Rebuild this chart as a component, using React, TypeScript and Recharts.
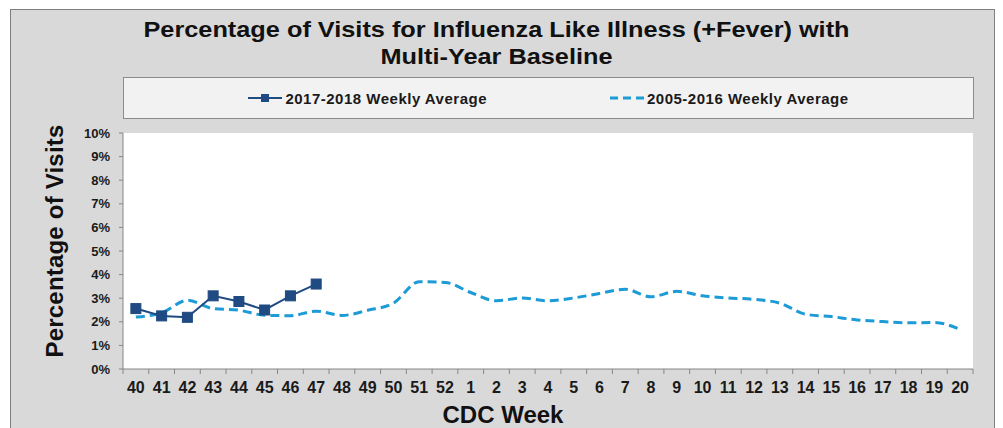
import React from 'react';
import { LineChart, Line, XAxis, YAxis, CartesianGrid } from 'recharts';

const weeks = [
  '40', '41', '42', '43', '44', '45', '46', '47', '48', '49', '50', '51', '52',
  '1', '2', '3', '4', '5', '6', '7', '8', '9', '10', '11', '12', '13', '14', '15', '16', '17', '18', '19', '20',
];

// 2017-2018 season, only the first 8 weeks reported
const season1718 = [2.56, 2.25, 2.19, 3.1, 2.86, 2.5, 3.1, 3.6];

// 2005-2016 multi-year weekly average
const baseline = [
  2.2, 2.38, 2.91, 2.56, 2.49, 2.28, 2.26, 2.45, 2.27, 2.49, 2.79, 3.7, 3.67,
  3.24, 2.89, 3.01, 2.89, 3.01, 3.2, 3.38, 3.06, 3.29, 3.1, 3.01, 2.95, 2.79, 2.32, 2.22, 2.08, 2.01, 1.96, 1.97, 1.68,
];

const yTicks = [0, 1, 2, 3, 4, 5, 6, 7, 8, 9, 10];

const seriesNames = ['2017-2018 Weekly Average', '2005-2016 Weekly Average'];

const data = weeks.map((w, i) => ({
  week: w,
  current: i < season1718.length ? season1718[i] : null,
  baseline: baseline[i],
}));

const NAVY = '#1f4a82';
const LIGHT = '#1d9bd6';
const AXIS = '#868686';
const FONT = '"Liberation Sans", Arial, sans-serif';

const W = 1003;
const H = 428;
const margin = { top: 133, right: 30, bottom: 29, left: 0 };

function WeekTick(props: any) {
  const { x, y, payload, index, visibleTicksCount } = props;
  const plotW = W - 123 - margin.right;
  const half = payload && payload.offset ? payload.offset : plotW / weeks.length / 2;
  return (
    <g>
      <line x1={x - half} x2={x - half} y1={y} y2={y + 5} stroke={AXIS} />
      {index === visibleTicksCount - 1 && (
        <line x1={x + half} x2={x + half} y1={y} y2={y + 5} stroke={AXIS} />
      )}
      <text
        x={x}
        y={y + 24}
        textAnchor="middle"
        fontFamily={FONT}
        fontWeight="bold"
        fontSize={16}
        fill="#1a1a1a"
      >
        {payload.value}
      </text>
    </g>
  );
}

function SquareDot(props: any) {
  const { cx, cy, index } = props;
  if (cx == null || cy == null) return <g key={`d${index}`} />;
  return <rect key={`d${index}`} x={cx - 5} y={cy - 5} width={10} height={10} fill={NAVY} stroke={NAVY} />;
}

export default function App() {
  return (
    <div style={{ position: 'fixed', left: 0, top: 0, width: W, height: H, overflow: 'hidden', background: '#fff' }}>
      <div
        style={{
          position: 'absolute',
          left: 10,
          top: 9,
          width: 983,
          height: 430,
          background: '#d9d9d9',
          border: '1px solid #7f7f7f',
        }}
      />
      <div
        style={{
          position: 'absolute',
          left: 123,
          top: 77,
          width: 849,
          height: 40,
          background: '#f2f2f2',
          border: '1px solid #8c8c8c',
          display: 'flex',
          alignItems: 'center',
          justifyContent: 'center',
          gap: 123,
          fontFamily: FONT,
          fontWeight: 'bold',
          fontSize: 15,
          letterSpacing: 0.5,
          color: '#1a1a1a',
        }}
      >
        <div style={{ display: 'flex', alignItems: 'center' }}>
          <svg width={34} height={12} style={{ marginRight: 3 }}>
            <line x1={0} x2={34} y1={6} y2={6} stroke={NAVY} strokeWidth={2} />
            <rect x={13} y={2} width={8} height={8} fill={NAVY} />
          </svg>
          <span>{seriesNames[0]}</span>
        </div>
        <div style={{ display: 'flex', alignItems: 'center' }}>
          <svg width={34} height={12} style={{ marginRight: 3 }}>
            <line x1={0} x2={34} y1={6} y2={6} stroke={LIGHT} strokeWidth={3} strokeDasharray="8 5" />
          </svg>
          <span>{seriesNames[1]}</span>
        </div>
      </div>
      <div style={{ position: 'absolute', left: 0, top: 0 }}>
        <LineChart width={W} height={H} data={data} margin={margin}>
          <CartesianGrid fill="#ffffff" horizontal={false} vertical={false} />
          <XAxis
            dataKey="week"
            scale="band"
            interval={0}
            tickLine={false}
            tickSize={0}
            tickMargin={0}
            height={30}
            stroke={AXIS}
            tick={<WeekTick />}
          />
          <YAxis
            width={123}
            domain={[0, 10]}
            ticks={yTicks}
            interval={0}
            tickFormatter={(v) => `${v}%`}
            tickSize={4}
            tickMargin={9}
            stroke={AXIS}
            tick={{ fontFamily: FONT, fontWeight: 'bold', fontSize: 13, fill: '#1a1a1a' }}
          />
          <Line
            dataKey="baseline"
            name={seriesNames[1]}
            type="monotone"
            stroke={LIGHT}
            strokeWidth={3}
            strokeDasharray="9 5"
            dot={false}
            isAnimationActive={false}
          />
          <Line
            dataKey="current"
            name={seriesNames[0]}
            type="linear"
            stroke={NAVY}
            strokeWidth={2}
            dot={<SquareDot />}
            connectNulls={false}
            isAnimationActive={false}
          />
        </LineChart>
      </div>
      <div
        style={{
          position: 'absolute',
          left: 10,
          width: 985,
          top: 16,
          textAlign: 'center',
          fontFamily: FONT,
          fontWeight: 'bold',
          fontSize: 22,
          lineHeight: '27.4px',
          color: '#111',
        }}
      >
        <div style={{ transform: 'scaleX(1.15)', marginLeft: -12 }}>
          Percentage of Visits for Influenza Like Illness (+Fever) with
          <br />
          Multi-Year Baseline
        </div>
      </div>
      <div
        style={{
          position: 'absolute',
          left: 55 - 150,
          top: 241 - 15,
          width: 300,
          height: 30,
          lineHeight: '30px',
          textAlign: 'center',
          transform: 'rotate(-90deg)',
          fontFamily: FONT,
          fontWeight: 'bold',
          fontSize: 24,
          letterSpacing: 0.2,
          color: '#111',
        }}
      >
        Percentage of Visits
      </div>
      <div
        style={{
          position: 'absolute',
          left: 503 - 100,
          width: 200,
          top: 403,
          lineHeight: '24px',
          textAlign: 'center',
          fontFamily: FONT,
          fontWeight: 'bold',
          fontSize: 24,
          color: '#111',
        }}
      >
        CDC Week
      </div>
    </div>
  );
}
